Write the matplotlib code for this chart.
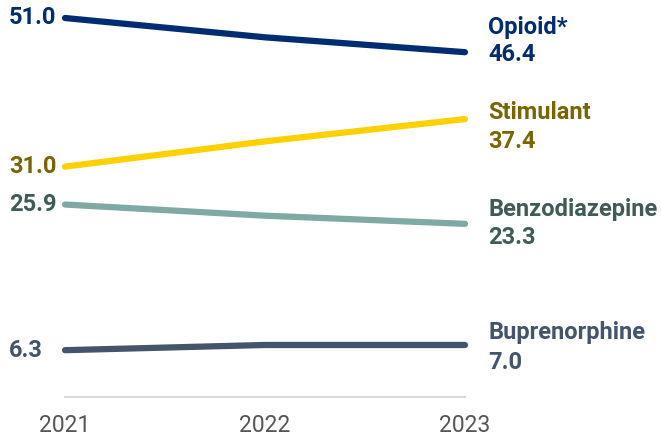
import matplotlib.pyplot as plt

plt.rcParams['font.family'] = ['Roboto', 'DejaVu Sans']

years = [2021, 2022, 2023]
series = ['Opioid*', 'Stimulant', 'Benzodiazepine', 'Buprenorphine']
values = {
    'Opioid*': [51.0, 48.4, 46.4],
    'Stimulant': [31.0, 34.4, 37.4],
    'Benzodiazepine': [25.9, 24.4, 23.3],
    'Buprenorphine': [6.3, 7.0, 7.0],
}
line_colors = ['#002D72', '#FFD100', '#7FA9A3', '#44546A']
text_colors = ['#002D72', '#7A6400', '#3F5B56', '#44546A']
# pixel offsets of the name / value labels from the line end
name_off = [25, 7, 14, 12]
value_off = [-2, -22, -14, -18]

fig = plt.figure(figsize=(6.61, 4.41), dpi=100)
ax = fig.add_axes([65 / 661, 44 / 441, 400 / 661, 379 / 441])
ax.set_xlim(2021, 2023)
ax.set_ylim(0, 51)

for i, name in enumerate(series):
    v = values[name]
    ax.plot(years, v, color=line_colors[i], lw=4.5, solid_capstyle='round',
            clip_on=False, zorder=3)
    ax.annotate(f'{v[0]:.1f}', (years[0], v[0]), xytext=(-56, 0),
                textcoords='offset pixels', ha='left', va='center',
                fontsize=17, fontweight='bold', color=text_colors[i])
    ax.annotate(name, (years[-1], v[-1]), xytext=(23, name_off[i]),
                textcoords='offset pixels', ha='left', va='center',
                fontsize=17, fontweight='bold', color=text_colors[i],
                annotation_clip=False)
    ax.annotate(f'{v[-1]:.1f}', (years[-1], v[-1]), xytext=(23, value_off[i]),
                textcoords='offset pixels', ha='left', va='center',
                fontsize=17, fontweight='bold', color=text_colors[i],
                annotation_clip=False)

for s in ['top', 'right', 'left']:
    ax.spines[s].set_visible(False)
ax.spines['bottom'].set_color('#D9D9D9')
ax.spines['bottom'].set_linewidth(1.5)
ax.set_yticks([])
ax.set_xticks(years)
ax.set_xticklabels([str(y) for y in years], fontsize=16.5, color='#555555')
ax.tick_params(axis='x', length=0, pad=12)

fig.savefig('out.png', dpi=100)
